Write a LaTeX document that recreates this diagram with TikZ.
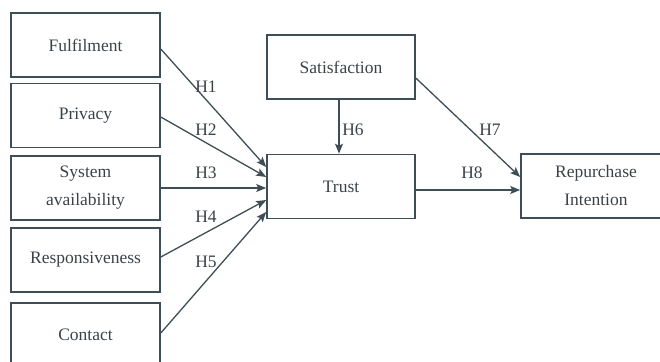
\documentclass[tikz,border=0pt]{standalone}
\usepackage{fontspec}
\setmainfont{Liberation Serif}
\usetikzlibrary{arrows.meta}
\definecolor{boxline}{RGB}{62,78,86}
\definecolor{boxtext}{RGB}{58,66,72}
\begin{document}
\begin{tikzpicture}[x=1pt,y=-1pt]
\tikzstyle{every node}+=[text=boxtext,font=\fontsize{17.5}{28}\selectfont]
\tikzstyle{factor}=[draw=boxline,line width=1.6pt,minimum width=149pt,minimum height=64pt,align=center,inner sep=0pt]
\tikzstyle{hyp}=[draw=boxline,line width=1.3pt,-{Stealth[length=10pt,width=8pt,inset=2pt]}]
\useasboundingbox (0,0) rectangle (660,361);
\node [factor] (fulfilment) at (85.5,45) {Fulfilment};
\node [factor] (privacy) at (85.5,115.5) {Privacy};
\node [factor] (system) at (85.5,188) {System\\availability};
\node [factor] (responsiveness) at (85.5,260) {Responsiveness};
\node [factor] (contact) at (85.5,335) {Contact};
\node [factor,minimum width=148pt] (satisfaction) at (341,67) {Satisfaction};
\node [factor,minimum width=148pt] (trust) at (341,186.5) {Trust};
\node [factor,minimum width=150pt] (repurchase) at (596,186) {Repurchase\\Intention};
\draw [hyp] ([yshift=-4pt]fulfilment.east) -- ([yshift=19.5pt]trust.west);
\draw [hyp] ([yshift=-1.5pt]privacy.east) -- ([yshift=9.5pt]trust.west);
\draw [hyp] (system.east) -- (system.east -| trust.west);
\draw [hyp] ([yshift=3pt]responsiveness.east) -- ([yshift=-13.5pt]trust.west);
\draw [hyp] ([yshift=2pt]contact.east) -- ([yshift=-25.5pt]trust.west);
\draw [hyp] ([xshift=-2pt]satisfaction.south) -- ([xshift=-2pt]trust.north);
\draw [hyp] ([yshift=-11pt]satisfaction.east) -- ([yshift=9pt]repurchase.west);
\draw [hyp] ([yshift=-3.5pt]trust.east) -- ([yshift=-3.5pt]trust.east -| repurchase.west);
\node (h1) at (206,87) {H1};
\node (h2) at (206,130) {H2};
\node (h3) at (206,173) {H3};
\node (h4) at (206,217) {H4};
\node (h5) at (206,262) {H5};
\node (h6) at (353,130) {H6};
\node (h7) at (490,130) {H7};
\node (h8) at (472,173) {H8};
\end{tikzpicture}
\end{document}
